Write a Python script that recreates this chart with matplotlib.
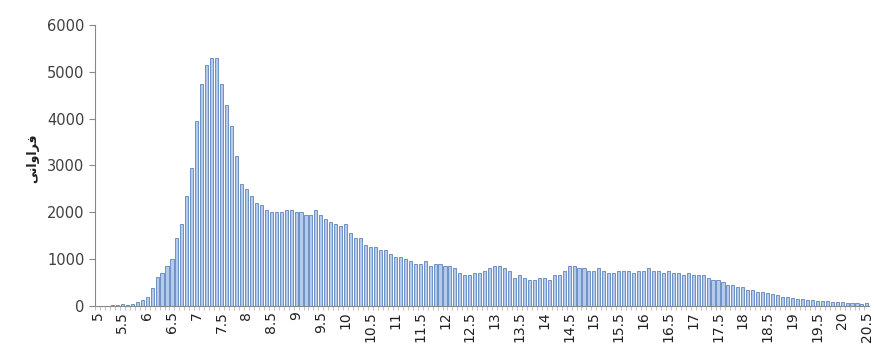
import numpy as np
import matplotlib.pyplot as plt

# class values 5.0 .. 20.5 in steps of 0.1
categories = [round(5 + 0.1 * i, 1) for i in range(156)]

frequency = [
    5, 5, 5, 10, 10, 30, 10, 50, 80, 120,                      # 5.0 - 5.9
    200, 380, 620, 700, 850, 1000, 1450, 1750, 2350, 2950,      # 6.0 - 6.9
    3950, 4750, 5150, 5300, 5300, 4750, 4300, 3850, 3200, 2600,  # 7.0 - 7.9
    2500, 2350, 2200, 2150, 2050, 2000, 2000, 2000, 2050, 2050,  # 8.0 - 8.9
    2000, 2000, 1950, 1950, 2050, 1950, 1850, 1800, 1750, 1700,  # 9.0 - 9.9
    1750, 1550, 1450, 1450, 1300, 1250, 1250, 1200, 1200, 1100,  # 10.0 - 10.9
    1050, 1050, 1000, 950, 900, 900, 950, 850, 900, 900,         # 11.0 - 11.9
    850, 850, 800, 700, 650, 650, 700, 700, 750, 800,            # 12.0 - 12.9
    850, 850, 800, 750, 600, 650, 600, 550, 550, 600,            # 13.0 - 13.9
    600, 550, 650, 650, 750, 850, 850, 800, 800, 750,            # 14.0 - 14.9
    750, 800, 750, 700, 700, 750, 750, 750, 700, 750,            # 15.0 - 15.9
    750, 800, 750, 750, 700, 750, 700, 700, 650, 700,            # 16.0 - 16.9
    650, 650, 650, 600, 550, 550, 500, 450, 450, 400,            # 17.0 - 17.9
    400, 350, 350, 300, 300, 280, 250, 230, 200, 180,            # 18.0 - 18.9
    170, 150, 140, 130, 120, 110, 100, 100, 90, 80,              # 19.0 - 19.9
    80, 70, 60, 60, 50, 60,                                      # 20.0 - 20.5
]

tick_labels = ['5', '5.5', '6', '6.5', '7', '7.5', '8', '8.5', '9', '9.5',
               '10', '10.5', '11', '11.5', '12', '12.5', '13', '13.5', '14',
               '14.5', '15', '15.5', '16', '16.5', '17', '17.5', '18', '18.5',
               '19', '19.5', '20', '20.5']

# "فراوانی" in presentation forms, stored in visual (left-to-right) order
ylabel = '\uFBFD\uFEE7\uFE8D\uFEED\uFE8D\uFEAE\uFED3'

fig = plt.figure(figsize=(8.75, 3.52), dpi=100)
ax = fig.add_axes([0.1086, 0.131, 0.885, 0.798])

x = np.arange(len(categories))
ax.bar(x, frequency, width=0.62, color='#b4cbec', edgecolor='#5f84bd',
       linewidth=0.6)

ax.set_xlim(-0.5, len(categories) - 0.5)
ax.set_ylim(0, 6000)
ax.set_yticks(range(0, 6001, 1000))
ax.tick_params(axis='y', labelsize=10.5, labelcolor='#404040', color='#888888',
               length=4, width=0.8, direction='out')

# labels every 0.5, small marks at every class boundary
label_pos = [categories.index(float(t)) for t in tick_labels]
ax.set_xticks(label_pos)
ax.set_xticklabels(tick_labels, rotation=90, fontsize=10, color='#202020',
                   va='top', ha='center')
ax.set_xticks(x - 0.5, minor=True)
ax.tick_params(axis='x', which='major', length=0, pad=4)
ax.tick_params(axis='x', which='minor', length=3, color='#aaaaaa', width=0.5)

for side in ['top', 'right']:
    ax.spines[side].set_visible(False)
ax.spines['left'].set_color('#888888')
ax.spines['bottom'].set_color('#888888')
ax.spines['left'].set_linewidth(0.8)
ax.spines['bottom'].set_linewidth(0.8)

fig.text(0.037, 0.55, ylabel, rotation=90, fontsize=9, fontweight='bold',
         family=['DejaVu Sans'], ha='center', va='center', color='#202020')

fig.savefig('out.png', dpi=100)
